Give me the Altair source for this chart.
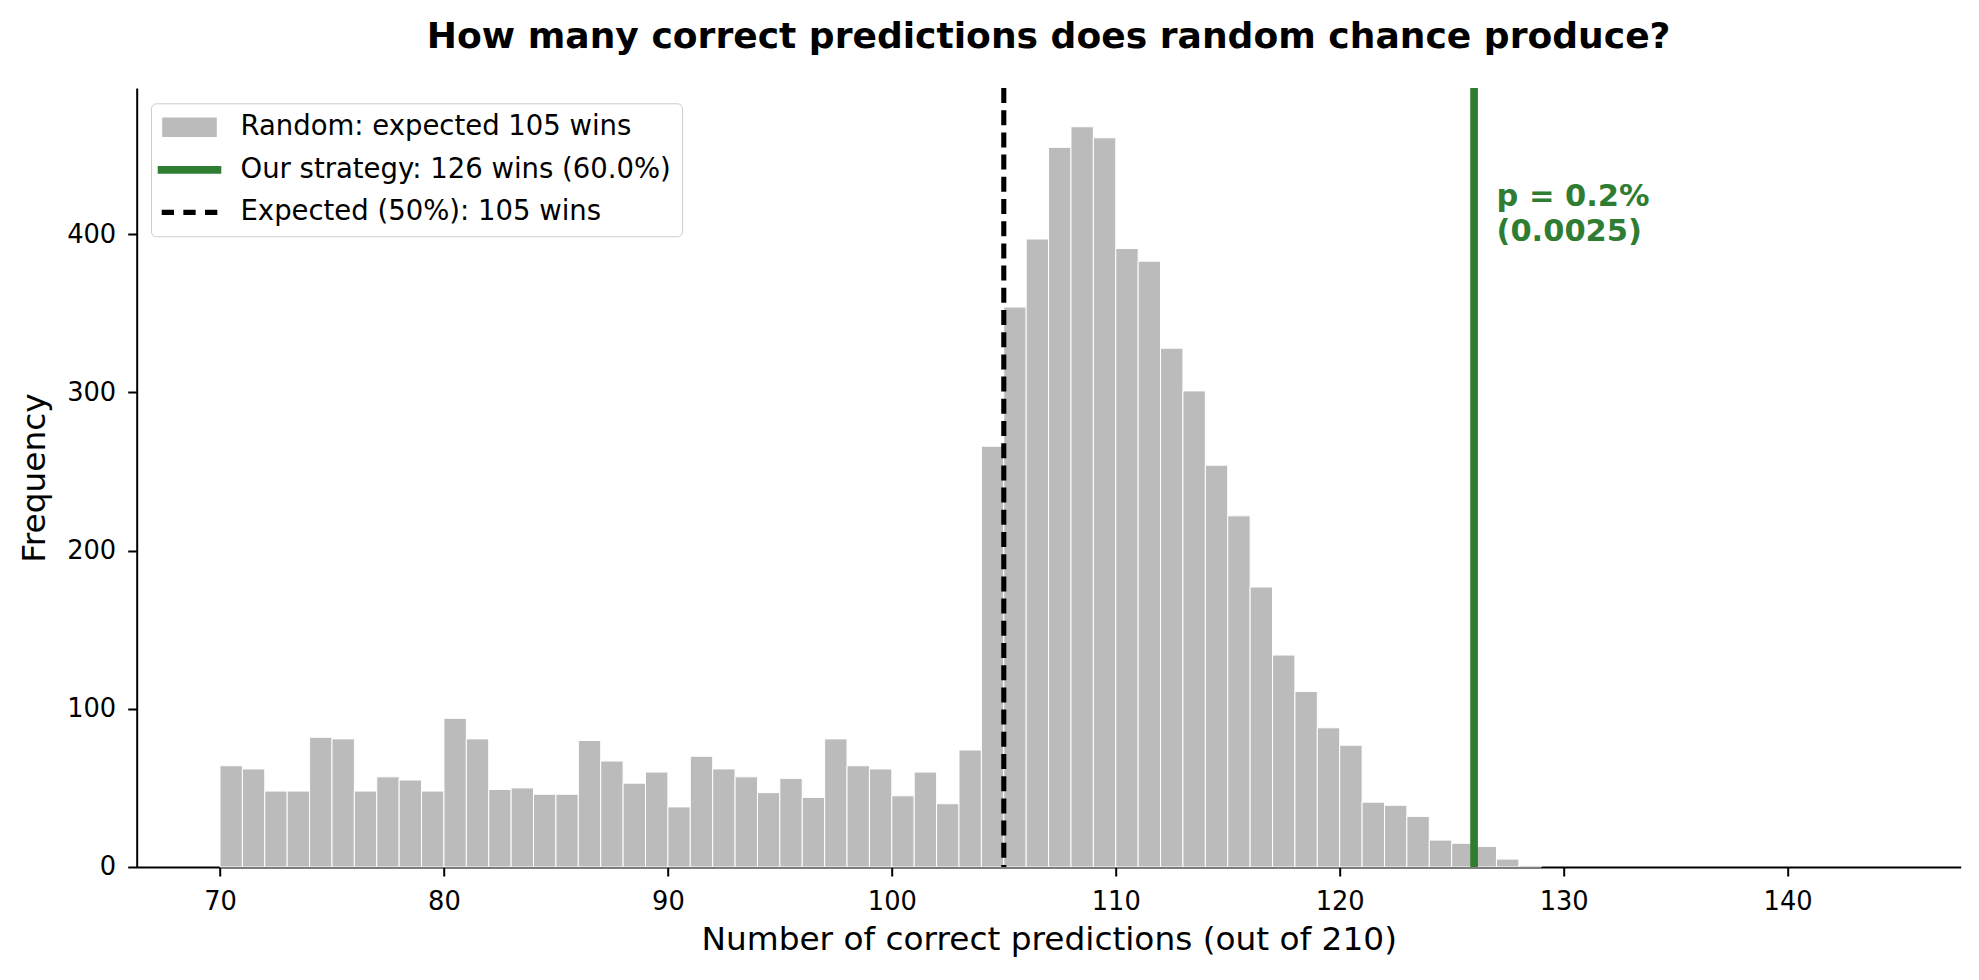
import altair as alt
import pandas as pd

# ---------------- data ----------------
wins = list(range(70, 129))
counts = [64, 62, 48, 48, 82, 81, 48, 57, 55, 48,
          94, 81, 49, 50, 46, 46, 80, 67, 53, 60,
          38, 70, 62, 57, 47, 56, 44, 81, 64, 62,
          45, 60, 40, 74, 266, 354, 397, 455, 468, 461,
          391, 383, 328, 301, 254, 222, 177, 134, 111, 88,
          77, 41, 39, 32, 17, 15, 13, 5, 1]
series_labels = ["Random: expected 105 wins",
                 "Our strategy: 126 wins (60.0%)",
                 "Expected (50%): 105 wins"]
strategy_wins = [126]
expected_wins = [105]
annotation_text = ["p = 0.2%\n(0.0025)"]
annotation_x = [127]
annotation_y = [417.6]
x_ticks = [70, 80, 90, 100, 110, 120, 130, 140]
y_ticks = [0, 100, 200, 300, 400]

# ---------------- styles ----------------
GRAY = "#bbbbbb"
GREEN = "#2e7d32"
BLACK = "#000000"
FONT = "DejaVu Sans"

hist = pd.DataFrame({"start": wins, "end": [w + 1 for w in wins],
                     "count": counts, "base": [0] * len(wins)})
strategy_df = pd.DataFrame({"x": strategy_wins})
expected_df = pd.DataFrame({"x": expected_wins})
ann_df = pd.DataFrame({"x": annotation_x, "y": annotation_y, "t": annotation_text})
legend_df = pd.DataFrame({"series": series_labels,
                          "x": [expected_wins[0]] * 3,
                          "y": [0] * 3})

x_scale = alt.Scale(domain=[66.28, 147.73], nice=False, zero=False)
y_scale = alt.Scale(domain=[0, 492.5], nice=False, zero=True)

x_axis = alt.Axis(values=x_ticks, format="d", title="Number of correct predictions (out of 210)",
                  labelPadding=14, titlePadding=9, labelFlush=False, grid=False)
y_axis = alt.Axis(values=y_ticks, format="d", title="Frequency",
                  labelPadding=12, titlePadding=15, labelFlush=False, grid=False)


def X(field):
    return alt.X(field, type="quantitative", scale=x_scale, axis=x_axis)


def Y(field):
    return alt.Y(field, type="quantitative", scale=y_scale, axis=y_axis)


bars = alt.Chart(hist).mark_rect(color=GRAY, stroke="white", strokeWidth=1).encode(
    x=X("start"), x2="end", y=Y("count"), y2="base"
)

expected_rule = alt.Chart(expected_df).mark_rule(
    color=BLACK, strokeWidth=5.1, strokeDash=[15, 7.2]
).encode(x=X("x"))

strategy_rule = alt.Chart(strategy_df).mark_rule(
    color=GREEN, strokeWidth=7.7
).encode(x=X("x"))

annotation = alt.Chart(ann_df).mark_text(
    align="left", baseline="alphabetic", font=FONT, fontWeight="bold",
    fontSize=30.5, color=GREEN, lineBreak="\n", lineHeight=35
).encode(x=X("x"), y=Y("y"), text="t:N")

legend_shapes = [
    "M-1.95,-0.7L1.95,-0.7L1.95,0.7L-1.95,0.7Z",
    "M-2.27,-0.275L2.27,-0.275L2.27,0.275L-2.27,0.275Z",
    "M-1.986,-0.19L-1.107,-0.19L-1.107,0.19L-1.986,0.19Z"
    "M-0.439,-0.19L0.439,-0.19L0.439,0.19L-0.439,0.19Z"
    "M1.107,-0.19L1.986,-0.19L1.986,0.19L1.107,0.19Z",
]


def make_legend():
    return alt.Legend(
        title=None, orient="none", legendX=14.3, legendY=15.3,
        padding=10, symbolOffset=14.5, labelOffset=37, rowPadding=14.5,
        labelFont=FONT, labelFontSize=27.5, labelColor=BLACK, labelLimit=2000,
        strokeColor="#cccccc", fillColor="rgba(255,255,255,0.8)", cornerRadius=5,
        symbolSize=784, symbolStrokeWidth=0,
    )


legend_layer = alt.Chart(legend_df).transform_filter("false").mark_point(
    filled=True, opacity=1, size=784, strokeWidth=0
).encode(
    x=X("x"), y=Y("y"),
    color=alt.Color("series:N", scale=alt.Scale(domain=series_labels,
                                                range=[GRAY, GREEN, BLACK]),
                    legend=make_legend()),
    shape=alt.Shape("series:N", scale=alt.Scale(domain=series_labels, range=legend_shapes),
                    legend=make_legend()),
)

chart = alt.layer(bars, expected_rule, strategy_rule, annotation, legend_layer).properties(
    width=1824, height=779,
    title=alt.TitleParams(
        "How many correct predictions does random chance produce?",
        font=FONT, fontSize=36.1, fontWeight="bold", color=BLACK,
        anchor="middle", frame="group", offset=29.5,
    ),
    autosize=alt.AutoSizeParams(type="none"),
    padding={"left": 128.7, "top": 80, "right": 10, "bottom": 97},
).configure_view(strokeWidth=0).configure_axis(
    domainColor=BLACK, domainWidth=2, tickColor=BLACK, tickWidth=2, tickSize=9,
    labelFont=FONT, labelFontSize=25.7, labelColor=BLACK,
    titleFont=FONT, titleFontSize=32.8, titleFontWeight="normal", titleColor=BLACK,
)

chart.save("out.html", embed_options={"renderer": "svg", "actions": False})
